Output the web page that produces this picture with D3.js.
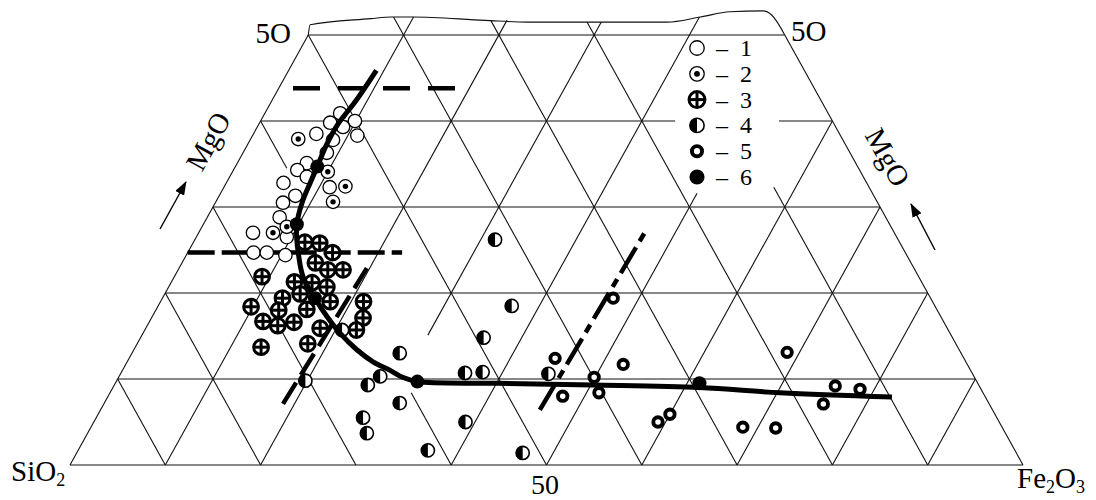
<!DOCTYPE html>
<html><head><meta charset="utf-8">
<script src="https://cdn.jsdelivr.net/npm/d3@7"></script>
<style>
html,body{margin:0;padding:0;background:#fff;}
svg{display:block;font-family:"Liberation Serif","Times New Roman",serif;}
</style></head><body>
<svg id="chart" width="1096" height="500"></svg>
<script>
// Ternary values: [Fe2O3 %, MgO %]  (SiO2 = 100 - Fe2O3 - MgO)
const series1 = [[7.9,40.9],[9.9,40.0],[7.4,39.8],[9.0,39.3],[11.0,38.3],[6.6,38.5],[8.7,37.8],[8.8,36.3],[7.3,35.1],[6.7,34.3],[8.1,33.5],[6.0,32.8],[11.1,32.3],[8.0,31.3],[7.1,30.5],[7.6,28.8],[5.7,27.0],[9.5,26.5],[6.9,24.7],[8.3,24.7],[10.4,24.4]];
const series2 = [[5.0,37.9],[10.0,34.1],[12.7,32.4],[12.3,30.6],[7.8,27.0],[8.9,27.7]];
const series3 = [[11.7,25.9],[13.3,25.8],[15.2,24.7],[14.0,23.5],[15.7,22.7],[17.3,22.7],[9.2,21.9],[12.9,21.3],[14.8,21.2],[16.6,20.7],[14.2,19.9],[12.6,19.4],[17.8,19.0],[9.8,18.4],[12.9,18.0],[15.8,18.1],[21.3,19.0],[22.2,17.1],[11.9,16.7],[13.7,16.2],[15.2,16.6],[18.3,15.9],[22.2,15.7],[17.9,14.1],[13.2,13.7]];
const series4 = [[31.5,26.2],[37.1,18.5],[36.0,14.8],[28.1,13.0],[20.7,15.7],[27.4,10.3],[26.6,9.3],[36.1,10.7],[37.9,10.8],[44.9,10.6],[31.0,7.2],[39.0,5.0],[36.7,1.7],[46.8,1.4],[28.0,5.5],[29.3,3.7],[19.8,9.8]];
const series5 = [[47.3,19.4],[44.7,12.4],[52.2,11.7],[49.9,10.2],[47.7,8.0],[51.3,8.4],[60.0,5.9],[59.2,5.0],[68.7,13.1],[75.7,9.2],[78.5,8.8],[75.5,7.1],[68.4,4.4],[71.9,4.3]];
const series6 = [[8.6,34.7],[9.8,28.0],[16.0,19.4],[31.6,9.7],[61.3,9.5]];
const trend = [[9.2,45.9],[8.8,42.2],[8.3,39.7],[8.3,37.2],[8.6,34.7],[8.8,32.8],[9.1,30.5],[9.8,28.0],[10.7,26.2],[11.6,24.7],[13.5,21.9],[16.0,19.4],[18.4,17.2],[20.7,15.3],[23.4,13.4],[25.8,12.0],[28.1,11.0],[29.8,10.2],[31.6,9.7],[40.0,9.5],[50.2,9.3],[61.6,9.0],[70.3,8.4],[82.3,7.9]];
const dashUpper = [[1.5,43.8],[18.7,43.8]];
const dashLower = [[0,24.7],[22.5,24.7]];
const dashLeft = [[18.8,7.1],[19.7,22.9]];
const dashRight = [[46.1,6.4],[46.8,27.1]];
const rimOutline = [[0,50],[-0.4,51.2],[5.6,51.9],[7.7,52.1],[9.9,52.1],[17.7,51.7],[22.2,51.5],[36.9,51.5],[40.1,52.1],[42.9,52.7],[46.3,52.8],[47.5,52.3],[50,50]];
const rimMg = {10:52.1, 20:51.7, 30:51.5, 40:52.1};   // top nodes (Fe2O3) -> rim MgO
const gridTicks = [0,10,20,30,40,50,60,70,80,90];
const mgTicks = [0,10,20,30,40,50];
const gapsH = {40:[[43.5,54.4]]};          // gaps in Fe2O3 on MgO lines
const gapsF = {30:[[0,15.1]], 50:[[31.6,60]]};  // gaps in MgO on Fe2O3 lines
const gapsS = {10:[[32.3,60]], 60:[[8.4,34.5]]}; // gaps in MgO on SiO2 lines
const legendLabels = ["1","2","3","4","5","6"];
const cornerLabels = {left:"SiO", right:"Fe", top:"5O", base:"50", side:"MgO"};

const svg = d3.select("#chart");
const X = d3.scaleLinear().domain([0,100]).range([70,1023]);
const Y = d3.scaleLinear().domain([0,50]).range([465,35]);
const P = d => [X(d[0] + d[1]/2), Y(d[1])];

function pieces(a,b,gaps){
  const out=[]; let cur=a;
  (gaps||[]).slice().sort((p,q)=>p[0]-q[0]).forEach(g=>{
    if(g[0]>cur) out.push([cur,Math.min(g[0],b)]);
    cur=Math.max(cur,g[1]);
  });
  if(cur<b) out.push([cur,b]);
  return out;
}
const segs=[];
mgTicks.forEach(mg=>{
  pieces(0,100-mg,gapsH[mg]).forEach(r=>segs.push([[r[0],mg],[r[1],mg]]));
});
gridTicks.forEach(c=>{
  let top=Math.min(50,100-c); if(c>0 && rimMg[c]) top=rimMg[c];
  pieces(0,top,gapsF[c]).forEach(r=>segs.push([[c,r[0]],[c,r[1]]]));
});
gridTicks.forEach(s=>{
  let top=Math.min(50,100-s); if(s>0 && s<50 && rimMg[50-s]) top=rimMg[50-s];
  pieces(0,top,gapsS[s]).forEach(r=>segs.push([[100-s-r[0],r[0]],[100-s-r[1],r[1]]]));
});
const gGrid=svg.append("g").attr("stroke","#111").attr("stroke-width",1.1).attr("fill","none");
gGrid.selectAll("line").data(segs).join("line")
  .attr("x1",d=>P(d[0])[0]).attr("y1",d=>P(d[0])[1])
  .attr("x2",d=>P(d[1])[0]).attr("y2",d=>P(d[1])[1]);
const lineGen=d3.line().x(d=>P(d)[0]).y(d=>P(d)[1]);
gGrid.append("path").attr("d",d3.line().x(d=>P(d)[0]).y(d=>P(d)[1]).curve(d3.curveMonotoneX)(rimOutline));

// dashed boundaries
const gDash=svg.append("g").attr("stroke","#000").attr("stroke-width",4.5).attr("fill","none");
gDash.append("path").attr("d",lineGen(dashUpper)).attr("stroke-dasharray","27,18");
gDash.append("path").attr("d",lineGen(dashLower)).attr("stroke-dasharray","27,7");
gDash.append("path").attr("d",lineGen(dashLeft)).attr("stroke-dasharray","25,9");
gDash.append("path").attr("d",lineGen(dashRight)).attr("stroke-dasharray","30,7,9,7");

function sym(g,type,x,y,k){
  k=k||1;
  const s=g.append("g").attr("transform",`translate(${x},${y})`);
  if(type===1){s.append("circle").attr("r",6.7*k).attr("fill","#fff").attr("stroke","#000").attr("stroke-width",1.3);}
  if(type===2){s.append("circle").attr("r",6.7*k).attr("fill","#fff").attr("stroke","#000").attr("stroke-width",1.3);
    s.append("circle").attr("r",2.7*k).attr("fill","#000");}
  if(type===3){const r=7.4*k;
    s.append("circle").attr("r",r).attr("fill","#fff").attr("stroke","#000").attr("stroke-width",3);
    s.append("line").attr("x1",-r).attr("x2",r).attr("stroke","#000").attr("stroke-width",3);
    s.append("line").attr("y1",-r).attr("y2",r).attr("stroke","#000").attr("stroke-width",3);}
  if(type===4){const r=6.6*k;
    s.append("circle").attr("r",r).attr("fill","#fff").attr("stroke","#000").attr("stroke-width",1.6);
    s.append("path").attr("d",`M0,${-r}A${r},${r} 0 0 0 0,${r}Z`).attr("fill","#000");}
  if(type===5){s.append("circle").attr("r",4.7*k).attr("fill","#fff").attr("stroke","#000").attr("stroke-width",3.9);}
  if(type===6){s.append("circle").attr("r",7*k).attr("fill","#000");}
}
const gPts=svg.append("g");
[[series1,1],[series2,2],[series3,3],[series4,4],[series5,5]].forEach(([arr,t])=>{
  arr.forEach(d=>{const p=P(d); sym(gPts,t,p[0],p[1]);});
});
svg.append("path").attr("d",lineGen.curve(d3.curveCatmullRom.alpha(0.5))(trend))
  .attr("fill","none").attr("stroke","#000").attr("stroke-width",5);
const gFill=svg.append("g");
series6.forEach(d=>{const p=P(d); sym(gFill,6,p[0],p[1]);});

// legend
const ly=d3.scalePoint().domain(legendLabels).range([48,177]);
const gLeg=svg.append("g");
legendLabels.forEach((l,i)=>{
  sym(gLeg,i+1,697,ly(l),1.08);
  gLeg.append("text").attr("x",716).attr("y",ly(l)+8).attr("font-size",24).text("\u2013");
  gLeg.append("text").attr("x",740).attr("y",ly(l)+8).attr("font-size",24).text(l);
});

// labels
const gT=svg.append("g").attr("fill","#000");
gT.append("text").attr("x",291).attr("y",43).attr("text-anchor","end").attr("font-size",29).text(cornerLabels.top);
gT.append("text").attr("x",791).attr("y",41).attr("font-size",29).text(cornerLabels.top);
gT.append("text").attr("x",545).attr("y",494).attr("text-anchor","middle").attr("font-size",28).text(cornerLabels.base);
const si=gT.append("text").attr("x",11).attr("y",481).attr("font-size",29);
si.append("tspan").text(cornerLabels.left); si.append("tspan").attr("font-size",18).attr("dy",5).text("2");
const fe=gT.append("text").attr("x",1017).attr("y",488).attr("font-size",29);
fe.append("tspan").text(cornerLabels.right); fe.append("tspan").attr("font-size",18).attr("dy",5).text("2");
fe.append("tspan").attr("dy",-5).text("O"); fe.append("tspan").attr("font-size",18).attr("dy",5).text("3");
gT.append("text").attr("transform","translate(208,141) rotate(-61)").attr("text-anchor","middle").attr("dy","0.35em").attr("font-size",29).text(cornerLabels.side);
gT.append("text").attr("transform","translate(888,157) rotate(61)").attr("text-anchor","middle").attr("dy","0.35em").attr("font-size",29).text(cornerLabels.side);

// arrows
svg.append("defs").append("marker").attr("id","ah").attr("viewBox","0 0 14 10").attr("refX",13).attr("refY",5)
  .attr("markerWidth",14).attr("markerHeight",10).attr("markerUnits","userSpaceOnUse").attr("orient","auto")
  .append("path").attr("d","M0,0L14,5L0,10Z").attr("fill","#000");
svg.append("line").attr("x1",160).attr("y1",229).attr("x2",186).attr("y2",182).attr("stroke","#000").attr("stroke-width",1.4).attr("marker-end","url(#ah)");
svg.append("line").attr("x1",935).attr("y1",250).attr("x2",911).attr("y2",204).attr("stroke","#000").attr("stroke-width",1.4).attr("marker-end","url(#ah)");
</script></body></html>
